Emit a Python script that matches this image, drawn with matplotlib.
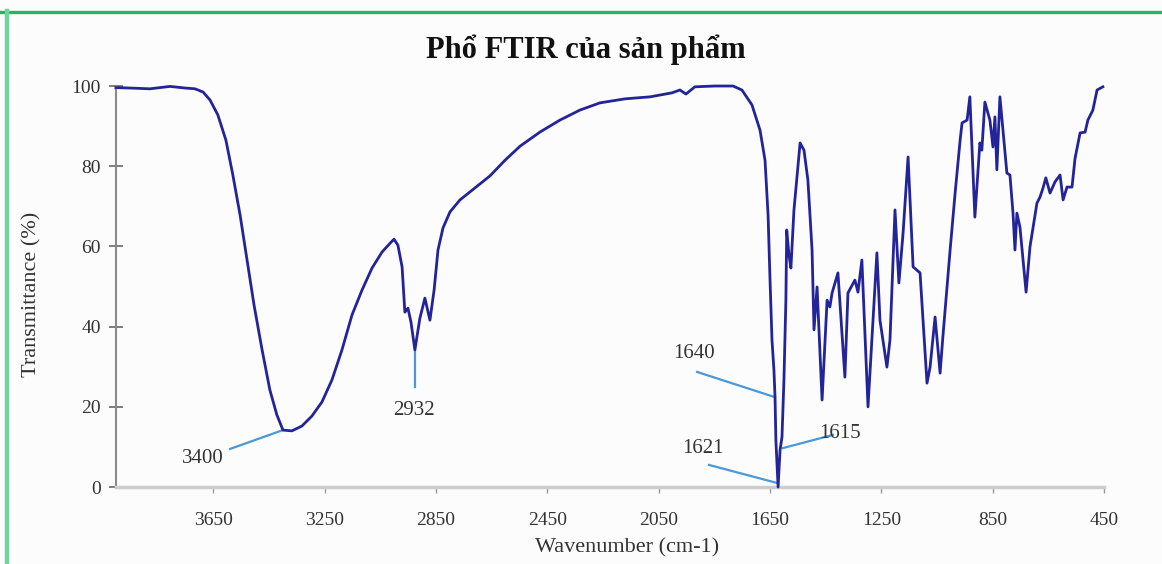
#----Phổ FTIR của sản phẩm----
import matplotlib.pyplot as plt
from matplotlib.lines import Line2D
import numpy as np

#----Datos del espectro----
wavenumber = [4000, 3950, 3878, 3806, 3752, 3716, 3687, 3662, 3634, 3605,
              3580, 3554, 3529, 3504, 3475, 3447, 3422, 3400, 3368, 3332,
              3296, 3260, 3224, 3188, 3152, 3116, 3080, 3044, 3015, 3001,
              2987, 2972, 2962, 2951, 2940, 2926, 2908, 2890, 2872, 2857,
              2843, 2825, 2800, 2764, 2710, 2656, 2602, 2548, 2477, 2405,
              2333, 2261, 2171, 2081, 2002, 1974, 1952, 1920, 1848, 1783,
              1751, 1715, 1686, 1668, 1657, 1650, 1643, 1636, 1632, 1629,
              1621, 1614, 1607, 1600, 1593, 1590, 1582, 1575, 1564, 1542,
              1528, 1514, 1499, 1492, 1481, 1463, 1445, 1435, 1427, 1406,
              1381, 1370, 1345, 1334, 1320, 1298, 1266, 1255, 1230, 1219,
              1201, 1187, 1172, 1154, 1136, 1111, 1086, 1075, 1057, 1039,
              1029, 1003, 985, 967, 960, 942, 932, 914, 896, 889,
              878, 860, 849, 842, 835, 824, 799, 788, 777, 770,
              763, 752, 730, 716, 691, 680, 669, 659, 644, 626,
              608, 597, 583, 565, 554, 536, 518, 508, 490, 475, 454]
transmitancia = [99.6, 99.5, 99.3, 99.9, 99.5, 99.3, 98.5, 96.5, 92.8, 86.5,
                 77.8, 67.8, 56.6, 45.4, 34.2, 24.2, 18.0, 14.2, 14.0, 15.2,
                 17.7, 21.2, 26.7, 34.2, 42.9, 49.1, 54.6, 58.6, 60.8, 61.8,
                 60.3, 54.9, 43.6, 44.6, 41.1, 34.2, 42.1, 47.1, 41.6, 49.1,
                 59.1, 64.6, 68.6, 71.6, 74.6, 77.6, 81.5, 85.0, 88.5, 91.5,
                 94.0, 95.8, 96.8, 97.3, 98.3, 99.0, 98.0, 99.8, 100, 100,
                 99.0, 95.3, 89.0, 81.5, 67.8, 51.6, 36.7, 29.2, 22.4, 11.7,
                 0.0, 9.2, 12.5, 26.7, 46.6, 64.1, 57.9, 54.6, 69.1, 85.8,
                 84.0, 76.6, 59.1, 39.2, 49.9, 21.7, 46.6, 44.9, 48.4, 53.4,
                 27.4, 48.4, 51.6, 48.6, 56.6, 20.0, 58.4, 41.6, 29.9, 36.7,
                 69.1, 50.9, 63.3, 82.3, 54.9, 53.4, 25.9, 29.9, 42.4, 28.4,
                 37.4, 59.1, 73.3, 86.5, 90.8, 91.5, 97.3, 67.3, 85.8, 84.0,
                 96.0, 91.5, 84.8, 92.3, 79.1, 97.3, 78.3, 77.8, 68.3, 59.1,
                 68.3, 64.8, 48.6, 59.9, 70.8, 72.3, 74.6, 77.1, 73.3, 76.1,
                 77.8, 71.6, 74.8, 74.8, 82.0, 88.3, 88.5, 91.5, 94.0, 99.0, 99.8]

#----Etiquetas de picos: texto, posición del texto, inicio y fin de la línea----
picos = ["3400", "2932", "1640", "1621", "1615"]
pos_texto = [(3687, 7.2), (2929, 19.2), (1923, 33.4), (1891, 9.7), (1398, 13.4)]
linea_ini = [(3590, 9.5), (2926, 25.0), (1912, 28.7), (1869, 5.5), (1424, 13.0)]
linea_fin = [(3400, 14.2), (2926, 34.2), (1632, 22.4), (1624, 1.0), (1604, 9.7)]

ticks_x = [3650, 3250, 2850, 2450, 2050, 1650, 1250, 850, 450]
ticks_y = [0, 20, 40, 60, 80, 100]

plt.rcParams['font.family'] = ['Liberation Serif', 'DejaVu Serif']

fig = plt.figure(figsize=(11.62, 5.64), dpi=100, facecolor='#fcfcfc')
ax = fig.add_axes([0.0998, 0.1365, 0.8503, 0.711])
ax.set_facecolor('#fcfcfc')

#----Graficar----
ax.plot(wavenumber, transmitancia, color='#23239a', lw=2.0, clip_on=False, zorder=3)

for t, pt, li, lf in zip(picos, pos_texto, linea_ini, linea_fin):
    ax.plot([li[0], lf[0]], [li[1], lf[1]], color='#4a98d8', lw=1.6, zorder=2)
    ax.text(pt[0], pt[1], t, ha='center', va='center', fontsize=15, color='#333333')

ax.set_xlim(4000, 450)
ax.set_ylim(0, 100)
ax.set_xticks(ticks_x)
ax.set_yticks(ticks_y)
ax.tick_params(axis='y', direction='inout', length=10, width=1.2, color='#666666',
               labelsize=14, labelcolor='#333333', pad=6)
ax.tick_params(axis='x', direction='out', length=4, width=1, color='#999999',
               labelsize=14, labelcolor='#333333', pad=14)

for s in ['top', 'right']:
    ax.spines[s].set_visible(False)
ax.spines['left'].set_color('#888888')
ax.spines['left'].set_linewidth(1.5)
ax.spines['bottom'].set_color('#cccccc')
ax.spines['bottom'].set_linewidth(2.5)

ax.set_title("Phổ FTIR của sản phẩm", fontsize=22, fontweight='bold', pad=20,
             color='#111111', x=0.476)
ax.set_xlabel("Wavenumber (cm-1)", fontsize=16, color='#333333')
ax.set_ylabel("Transmittance (%)", fontsize=16, color='#333333')
ax.xaxis.set_label_coords(0.517, -0.128)
ax.yaxis.set_label_coords(-0.075, 0.48)

#----Borde verde----
fig.add_artist(Line2D([0, 1], [0.9796, 0.9796], color='#1fb85a', lw=2.4, transform=fig.transFigure))
fig.add_artist(Line2D([0.0062, 0.0062], [0, 0.981], color='#72d3a0', lw=3.2, transform=fig.transFigure))

plt.savefig("out.png", dpi=100, facecolor=fig.get_facecolor())
